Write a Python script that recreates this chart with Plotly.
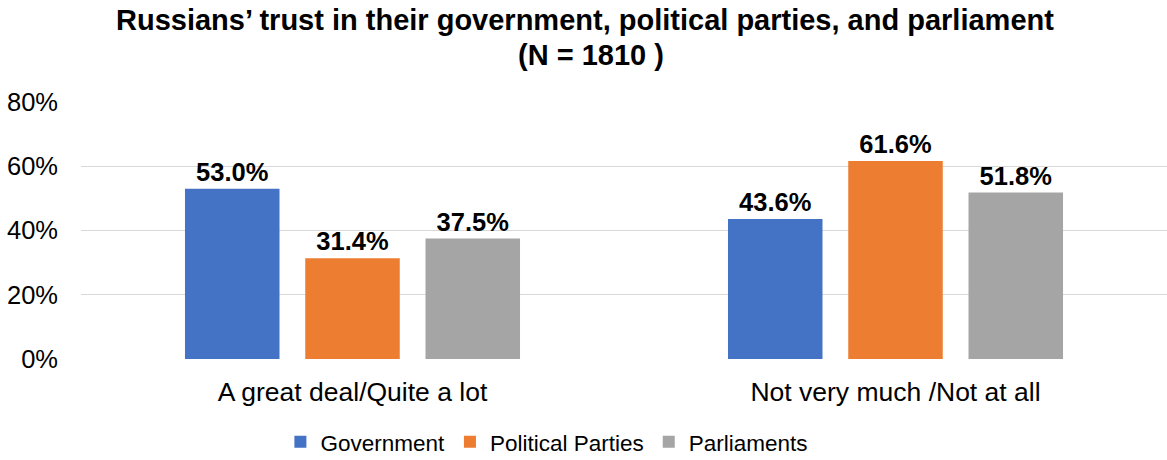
import plotly.graph_objects as go

categories = ["A great deal/Quite a lot", "Not very much /Not at all"]
series_names = ["Government", "Political Parties", "Parliaments"]
government = [53.0, 43.6]
political_parties = [31.4, 61.6]
parliaments = [37.5, 51.8]
colors = ["#4472C4", "#ED7D31", "#A5A5A5"]
y_ticks = [0, 20, 40, 60, 80]
y_tick_labels = ["0%", "20%", "40%", "60%", "80%"]

FONT = "Liberation Sans, Arial, sans-serif"

fig = go.Figure()
for name, vals, col in zip(series_names, [government, political_parties, parliaments], colors):
    fig.add_trace(go.Bar(
        name=name,
        x=categories,
        y=vals,
        marker=dict(color=col, line=dict(width=0)),
        text=[f"{v:.1f}%" for v in vals],
        textposition="outside",
        textfont=dict(family=FONT, size=25.5, color="#000000"),
        texttemplate="<b>%{text}</b>",
        cliponaxis=False,
    ))

fig.update_layout(
    width=1167,
    height=460,
    margin=dict(l=81, r=0, t=102, b=101, autoexpand=False),
    paper_bgcolor="white",
    plot_bgcolor="white",
    barmode="group",
    bargap=0.3356,
    bargroupgap=0.214,
    font=dict(family=FONT, size=22, color="#000000"),
    showlegend=True,
    legend=dict(
        orientation="h",
        x=0.429, xanchor="center",
        y=-0.24, yanchor="top",
        itemwidth=30,
        font=dict(family=FONT, size=22.5, color="#000000"),
        traceorder="normal",
    ),
    xaxis=dict(
        showgrid=False,
        showline=False,
        ticks="",
        automargin=False,
        ticklabelstandoff=14,
        tickfont=dict(family=FONT, size=26.5, color="#000000"),
    ),
    yaxis=dict(
        range=[0, 80],
        tickvals=y_ticks,
        ticktext=y_tick_labels,
        showgrid=True,
        gridcolor="#D9D9D9",
        gridwidth=1.3,
        zeroline=False,
        showline=False,
        ticks="",
        automargin=False,
        ticklabelstandoff=22,
        tickfont=dict(family=FONT, size=25.5, color="#000000"),
    ),
    annotations=[
        dict(
            text="<b>Russians’ trust in their government, political parties, and parliament</b>",
            xref="paper", yref="paper", x=0.4641, y=1.0, yanchor="middle",
            yshift=82,
            showarrow=False,
            font=dict(family=FONT, size=29, color="#000000"),
        ),
        dict(
            text="<b>(N = 1810 )</b>",
            xref="paper", yref="paper", x=0.4696, y=1.0, yanchor="middle",
            yshift=47,
            showarrow=False,
            font=dict(family=FONT, size=29, color="#000000"),
        ),
    ],
)

fig.write_html("out.html")
